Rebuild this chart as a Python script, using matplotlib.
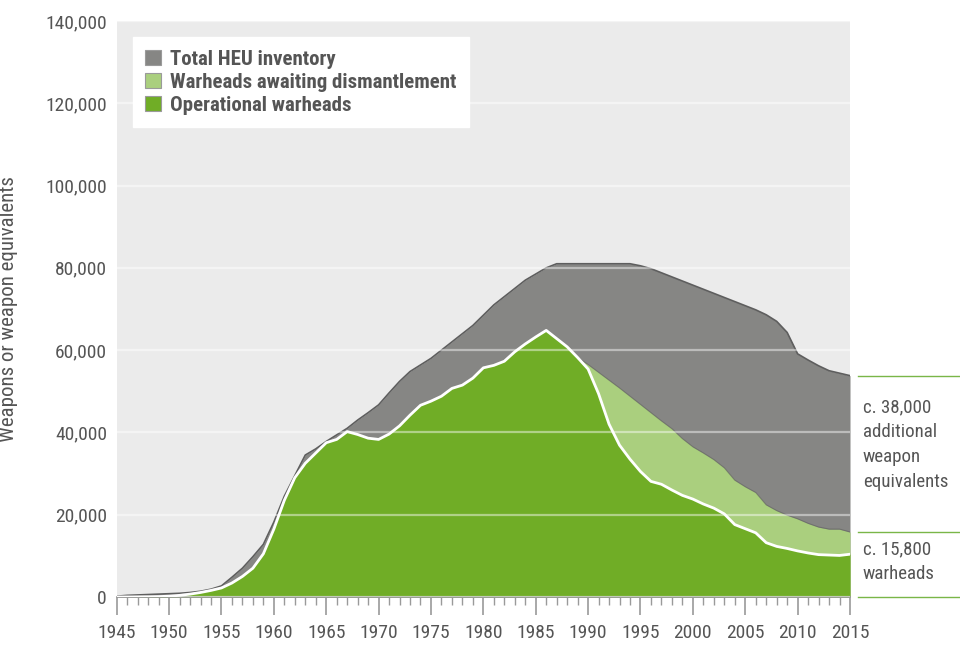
import matplotlib
matplotlib.use("Agg")
import matplotlib.pyplot as plt
from matplotlib.patches import Patch
from matplotlib.ticker import FuncFormatter, MultipleLocator
import numpy as np

years = list(range(1945, 2016))

total_heu = [0.2, 0.4, 0.5, 0.6, 0.7, 0.8, 0.9, 1.1, 1.4, 1.9,
             2.7, 4.8, 7.0, 9.8, 12.8, 18.2, 24.5, 29.5, 34.5, 36.0,
             37.8, 39.4, 41.0, 43.0, 44.8, 46.7, 49.6, 52.4, 54.8, 56.4,
             58.0, 60.0, 62.0, 64.0, 66.0, 68.5, 71.0, 73.0, 75.0, 77.0,
             78.5, 80.0, 81.0, 81.0, 81.0, 81.0, 81.0, 81.0, 81.0, 81.0,
             80.5, 79.8, 78.8, 77.8, 76.8, 75.8, 74.8, 73.8, 72.8, 71.8,
             70.8, 69.8, 68.6, 67.0, 64.3, 59.1, 57.6, 56.2, 55.0, 54.4,
             53.8]

operational = [0.0, 0.01, 0.02, 0.05, 0.1, 0.2, 0.4, 0.7, 1.1, 1.6,
               2.2, 3.4, 5.0, 7.0, 10.5, 16.5, 23.5, 29.0, 32.5, 35.0,
               37.5, 38.3, 40.2, 39.5, 38.6, 38.3, 39.6, 41.6, 44.2, 46.6,
               47.6, 48.8, 50.7, 51.5, 53.2, 55.7, 56.3, 57.3, 59.6, 61.5,
               63.2, 64.8, 62.8, 60.8, 58.2, 55.4, 49.4, 42.0, 36.9, 33.5,
               30.5, 28.1, 27.4, 26.0, 24.7, 23.8, 22.6, 21.6, 20.2, 17.6,
               16.6, 15.6, 13.2, 12.3, 11.8, 11.2, 10.7, 10.3, 10.2, 10.1,
               10.4]

# operational + awaiting dismantlement (equal to operational until 1989)
all_warheads = operational[:45] + [
               56.5, 54.6, 52.7, 50.8, 48.8, 46.8, 44.8, 42.8, 40.9, 38.5,
               36.5, 35.0, 33.4, 31.4, 28.4, 26.8, 25.4, 22.4, 21.0, 19.9,
               19.0, 17.9, 17.0, 16.5, 16.5, 15.8]

legend_labels = ["Total HEU inventory", "Warheads awaiting dismantlement", "Operational warheads"]
ylabel = "Weapons or weapon equivalents"
note_top = "c. 38,000\nadditional\nweapon\nequivalents"
note_bottom = "c. 15,800\nwarheads"

x = np.array(years)
tot = np.array(total_heu) * 1000
ops = np.array(operational) * 1000
allw = np.array(all_warheads) * 1000

FONT = ['Roboto Condensed', 'Liberation Sans Narrow', 'Open Sans Condensed',
        'Roboto', 'DejaVu Sans']
plt.rcParams['font.family'] = FONT
TXT = '#555555'
GREY = '#868684'
EDGE = '#5e5e5e'
LGREEN = '#aacf7e'
GREEN = '#70ad26'
BG = '#ebebeb'

fig = plt.figure(figsize=(9.6, 6.48), dpi=100)
ax = fig.add_axes([116.7/960, 1 - 597/648, (850 - 116.7)/960, 576/648])
ax.set_facecolor(BG)

ax.fill_between(x, 0, tot, color=GREY, lw=0, zorder=1)
ax.plot(x, tot, color=EDGE, lw=1.2, zorder=1.1)
ax.fill_between(x, 0, allw, color=LGREEN, lw=0, zorder=1.2)
ax.plot(x[44:], allw[44:], color=EDGE, lw=0.8, alpha=0.6, zorder=1.3)
ax.fill_between(x, 0, ops, color=GREEN, lw=0, zorder=1.4)
ax.plot(x, ops, color='white', lw=2.0, zorder=3, solid_joinstyle='round')

ax.set_xlim(1945, 2015)
ax.set_ylim(0, 140000)
ax.yaxis.set_major_locator(MultipleLocator(20000))
ax.yaxis.set_major_formatter(FuncFormatter(lambda v, p: f"{int(v):,}"))
ax.xaxis.set_major_locator(MultipleLocator(5))
ax.xaxis.set_minor_locator(MultipleLocator(1))
ax.grid(axis='y', color='white', alpha=0.45, lw=1.6, zorder=2.5)
ax.set_axisbelow(False)

for s in ['left', 'top', 'right']:
    ax.spines[s].set_visible(False)
ax.spines['bottom'].set_color('#9a9a9a')
ax.spines['bottom'].set_linewidth(1.2)
ax.tick_params(axis='y', length=0, pad=7, labelsize=14, labelcolor=TXT)
ax.tick_params(axis='x', which='major', length=13, width=1.2, color='#9a9a9a',
               labelsize=14, labelcolor=TXT, pad=6.5)
ax.tick_params(axis='x', which='minor', length=5.5, width=1.0, color='#9a9a9a')
ax.set_ylabel(ylabel, fontsize=15, color=TXT)
ax.yaxis.set_label_coords((18 - 116.7) / 733.3, 0.5)

handles = [Patch(facecolor=GREY, edgecolor='#9a9a9a', lw=0.8),
           Patch(facecolor=LGREEN, edgecolor='#9a9a9a', lw=0.8),
           Patch(facecolor=GREEN, edgecolor='#9a9a9a', lw=0.8)]
leg = ax.legend(handles, legend_labels, loc='upper left',
                bbox_to_anchor=(0.022, 0.972), borderaxespad=0,
                frameon=True, fancybox=False, framealpha=1,
                prop={'family': FONT, 'weight': 'bold', 'size': 15},
                handlelength=0.75, handleheight=0.75, handletextpad=0.45,
                labelspacing=0.2, borderpad=0.6)
leg.get_frame().set_edgecolor('white')
leg.get_frame().set_facecolor('white')
for t in leg.get_texts():
    t.set_color(TXT)
leg.set_zorder(5)

# right-side annotations (figure pixel coordinates)
def fy(py):
    return 1 - py / 648
for py in [376, 532, 597]:
    fig.add_artist(plt.Line2D([858/960, 1.0], [fy(py), fy(py)], color='#7ab648', lw=1.0))
fig.text(863/960, fy(398), note_top, ha='left', va='top', fontsize=13.6,
         color=TXT, linespacing=1.5)
fig.text(863/960, fy(540), note_bottom, ha='left', va='top', fontsize=13.6,
         color=TXT, linespacing=1.5)

fig.savefig('out.png', dpi=100, facecolor='white')
